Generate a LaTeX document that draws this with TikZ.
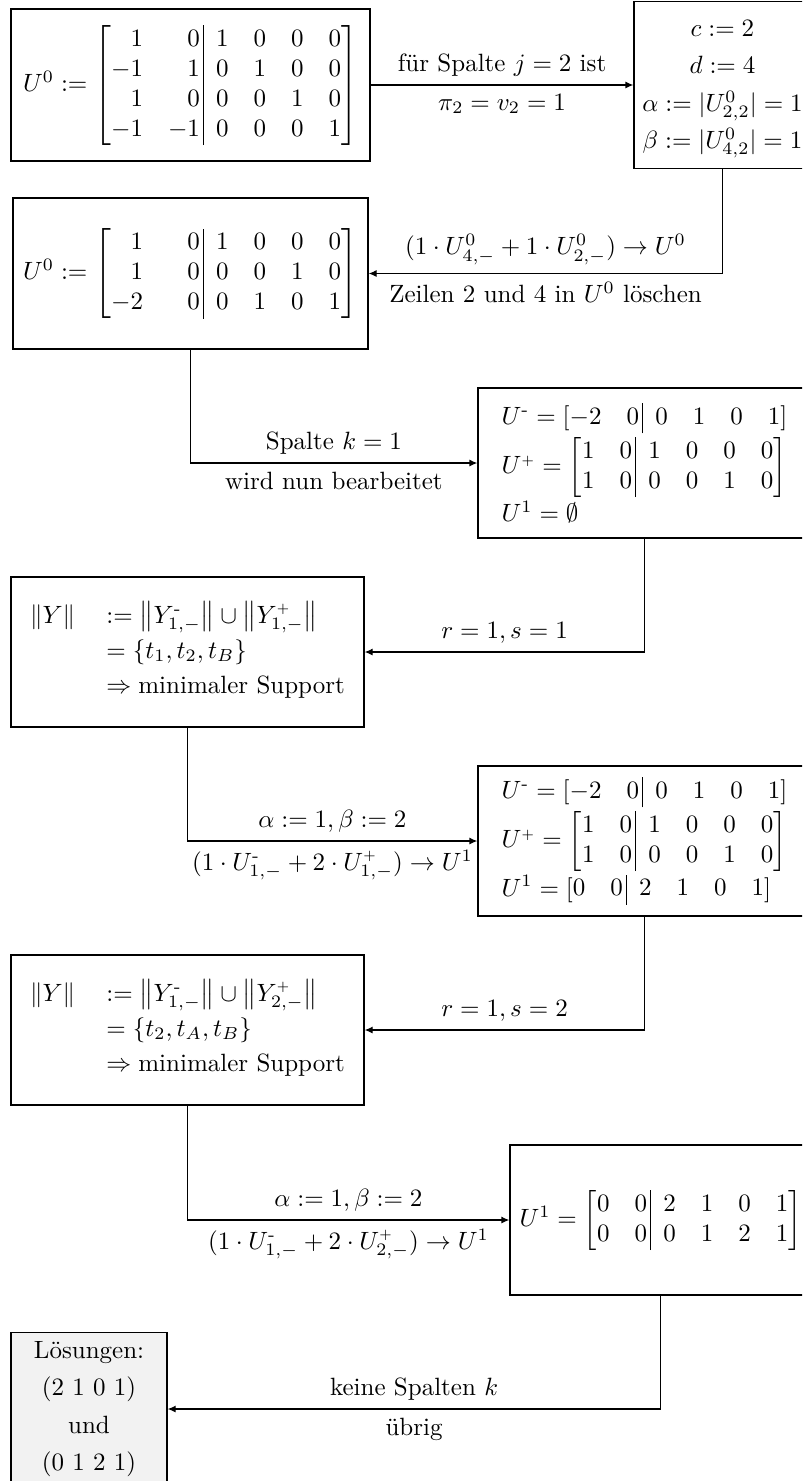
\documentclass[tikz,border=0pt]{standalone}
\usepackage{amsmath,amssymb}
\usetikzlibrary{arrows.meta}
\tikzset{
  box/.style={draw, line width=0.5pt, inner sep=3.33pt, align=center},
  arr/.style={draw, line width=0.5pt, -{Latex[length=3.2pt,width=2.8pt]}},
  lab/.style={inner sep=3.33pt}
}
\newcommand{\Um}{U^{\text{-}}}
\newcommand{\Up}{U^{\scriptscriptstyle +}}
\newcommand{\Ym}{Y^{\text{-}}}
\newcommand{\Yp}{Y^{\scriptscriptstyle +}}
\newcommand{\bsep}{@{\hspace{1.5pt}}|}
\begin{document}
\begin{tikzpicture}[x=0.4pt,y=-0.4pt]
\useasboundingbox (0,0) rectangle (802,1481);
\clip (0,0) rectangle (802,1481);
% row 1
\node[box, minimum width=143.6pt, minimum height=60.8pt] (B1) at (190.5,85)
 {$U^0 := \left[\begin{array}{@{}rr\bsep rrrr@{}}
 1 & 0 & 1 & 0 & 0 & 0\\
 -1 & 1 & 0 & 1 & 0 & 0\\
 1 & 0 & 0 & 0 & 1 & 0\\
 -1 & -1 & 0 & 0 & 0 & 1
 \end{array}\right]$};
\node[box, minimum width=69.2pt, minimum height=60.8pt] (B2) at (722.5,85)
 {\renewcommand{\arraystretch}{1.25}\begin{tabular}{@{}c@{}}
  \smash{$c := 2$}\\ \smash{$d := 4$}\\ \smash{$\alpha := |U^0_{2,2}| = 1$}\\ \smash{$\beta := |U^0_{4,2}| = 1$}
  \end{tabular}};
% row 2
\node[box, minimum width=142pt, minimum height=60.4pt] (B3) at (190.5,273.5)
 {$U^0 := \left[\begin{array}{@{}rr\bsep rrrr@{}}
 1 & \phantom{-}0 & 1 & 0 & 0 & 0\\
 1 & 0 & 0 & 0 & 1 & 0\\
 -2 & 0 & 0 & 1 & 0 & 1
 \end{array}\right]$};
% row 3
\node[box, minimum width=133.2pt, minimum height=60pt, align=left] (B4) at (644.5,463)
 {$\Um = [\begin{array}{@{}ll\bsep llll@{}} -2 & 0 & 0 & 1 & 0 & 1\end{array}]$\\[0.5pt]
  $\Up = \left[\begin{array}{@{}ll\bsep llll@{}} 1 & 0 & 1 & 0 & 0 & 0\\ 1 & 0 & 0 & 0 & 1 & 0\end{array}\right]$\\[0.5pt]
  $U^1 = \emptyset$};
% row 4
\node[box, minimum width=141.2pt, minimum height=60pt] (Y1) at (187.5,652)
 {$\begin{array}{@{}l@{\hspace{12.5pt}}l@{}}
  \lVert Y\rVert & := \left\lVert \Ym_{1,-}\right\rVert \cup \left\lVert \Yp_{1,-}\right\rVert\\[2pt]
   & = \{t_1,t_2,t_B\}\\[2pt]
   & \Rightarrow \text{minimaler Support}
  \end{array}$};
% row 5
\node[box, minimum width=133.2pt, minimum height=60pt, align=left] (B5) at (644.5,841)
 {$\Um = [\begin{array}{@{}ll\bsep llll@{}} -2 & 0 & 0 & 1 & 0 & 1\end{array}]$\\[0.5pt]
  $\Up = \left[\begin{array}{@{}ll\bsep llll@{}} 1 & 0 & 1 & 0 & 0 & 0\\ 1 & 0 & 0 & 0 & 1 & 0\end{array}\right]$\\[0.5pt]
  $U^1 = [\begin{array}{@{}ll\bsep llll@{}} 0 & 0 & 2 & 1 & 0 & 1\end{array}]$};
% row 6
\node[box, minimum width=141.2pt, minimum height=60pt] (Y2) at (187.5,1030)
 {$\begin{array}{@{}l@{\hspace{12.5pt}}l@{}}
  \lVert Y\rVert & := \left\lVert \Ym_{1,-}\right\rVert \cup \left\lVert \Yp_{2,-}\right\rVert\\[2pt]
   & = \{t_2,t_A,t_B\}\\[2pt]
   & \Rightarrow \text{minimaler Support}
  \end{array}$};
% row 7
\node[box, minimum width=120.4pt, minimum height=60pt] (B7) at (660.5,1220)
 {$U^1 = \left[\begin{array}{@{}ll\bsep llll@{}} 0 & 0 & 2 & 1 & 0 & 1\\ 0 & 0 & 0 & 1 & 2 & 1\end{array}\right]$};
% row 8
\node[box, fill=gray!10, minimum width=62.4pt, minimum height=60pt] (L) at (89,1409)
 {Lösungen:\\[3pt] (2 1 0 1)\\[3pt] und\\[3pt] (0 1 2 1)};
% connectors
\draw[arr] (B1.east) -- node[lab, above]{für Spalte $j=2$ ist} node[lab, below]{$\pi_2 = v_2 = 1$} (B2.west);
\draw[arr] (B2.south) |- node[lab, pos=0.75, above]{$(1\cdot U^0_{4,-} + 1\cdot U^0_{2,-}) \rightarrow U^0$} node[lab, pos=0.75, below]{Zeilen 2 und 4 in $U^0$ löschen} (B3.east);
\draw[arr] (B3.south) |- node[lab, pos=0.75, above]{Spalte $k=1$} node[lab, pos=0.75, below]{wird nun bearbeitet} (B4.west);
\draw[arr] (B4.south) |- node[lab, pos=0.75, above]{$r=1, s=1$} (Y1.east);
\draw[arr] (Y1.south) |- node[lab, pos=0.75, above]{$\alpha := 1, \beta := 2$} node[lab, pos=0.75, below]{$(1\cdot \Um_{1,-} + 2\cdot \Up_{1,-}) \rightarrow U^1$} (B5.west);
\draw[arr] (B5.south) |- node[lab, pos=0.75, above]{$r=1, s=2$} (Y2.east);
\draw[arr] (Y2.south) |- node[lab, pos=0.75, above]{$\alpha := 1, \beta := 2$} node[lab, pos=0.75, below]{$(1\cdot \Um_{1,-} + 2\cdot \Up_{2,-}) \rightarrow U^1$} (B7.west);
\draw[arr] (B7.south) |- node[lab, pos=0.75, above]{keine Spalten $k$} node[lab, pos=0.75, below]{übrig} (L.east);
\end{tikzpicture}
\end{document}
